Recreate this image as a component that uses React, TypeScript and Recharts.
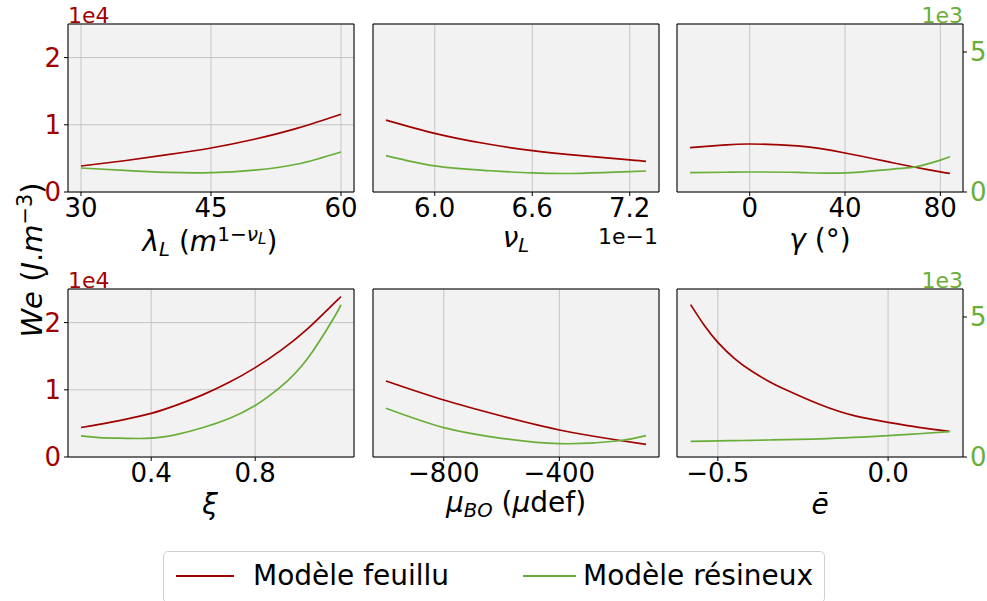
import React from "react";
import { LineChart, Line, XAxis, YAxis, CartesianGrid, ReferenceLine } from "recharts";

const FONT = '"DejaVu Sans", sans-serif';
const RED = "#a00000";
const GREEN = "#6aae3a";

// left axis (feuillu) 0..2.5e4, right axis (résineux) 0..6e3
const leftTicks = [0, 10000, 20000];
const rightTicks = [0, 5000];

const lambdaX = [30, 35, 40, 45, 50, 55, 60];
const lambdaFeuillu = [3870, 4650, 5550, 6550, 7850, 9500, 11560];
const lambdaResineux = [857, 770, 700, 690, 780, 1000, 1430];

const nuX = [5.7, 6.0, 6.3, 6.6, 6.9, 7.2, 7.3];
const nuFeuillu = [10700, 8730, 7250, 6150, 5400, 4780, 4560];
const nuResineux = [1300, 930, 775, 680, 668, 725, 750];

const gammaX = [-25, -10, 0, 20, 40, 60, 70, 80, 84];
const gammaFeuillu = [6590, 7000, 7140, 6850, 5800, 4350, 3650, 3000, 2760];
const gammaResineux = [690, 705, 714, 700, 680, 820, 904, 1140, 1260];

const xiX = [0.13, 0.2, 0.3, 0.4, 0.5, 0.6, 0.7, 0.8, 0.9, 1.0, 1.1, 1.13];
const xiFeuillu = [4390, 4850, 5600, 6490, 7760, 9280, 11110, 13300, 15910, 19030, 22760, 23880];
const xiResineux = [755, 694, 668, 672, 810, 1053, 1377, 1840, 2520, 3500, 4930, 5430];

const muX = [-1000, -800, -600, -400, -200, -100];
const muFeuillu = [11310, 8480, 6100, 4020, 2530, 1880];
const muResineux = [1740, 1050, 667, 476, 571, 762];

const eX = [-0.58, -0.54, -0.5, -0.45, -0.4, -0.35, -0.3, -0.2, -0.1, 0.0, 0.09, 0.18];
const eFeuillu = [22670, 19600, 17060, 14600, 12750, 11250, 10000, 7800, 6150, 5160, 4420, 3820];
const eResineux = [560, 565, 575, 585, 595, 608, 620, 650, 700, 762, 830, 905];

const minus = (s: string) => s.replace("-", "\u2212");
const fmtInt = (v: number) => minus(String(v));
const fmt1 = (v: number) => minus(v.toFixed(1));

const PW = 286;
const PH = 168;
const AXW = 40;
const TOPM = 5;
const TICK_FS = 26;

function Panel({ left, top, xs, red, green, domain, ticks, fmt, showLeft, showRight }: any) {
  const data = xs.map((x: number, i: number) => ({ x, feuillu: red[i], resineux: green[i] }));
  return (
    <div style={{ position: "absolute", left: left - AXW, top: top - TOPM }}>
      <LineChart
        width={PW + 2 * AXW}
        height={PH + TOPM + 40}
        data={data}
        margin={{ top: TOPM, right: 0, bottom: 0, left: 0 }}
      >
        <CartesianGrid stroke="#c4c4c4" strokeWidth={1} fill="#f2f2f2" fillOpacity={1} />
        <XAxis
          dataKey="x"
          type="number"
          domain={domain}
          ticks={ticks}
          tickFormatter={fmt}
          allowDataOverflow
          height={40}
          tickSize={4}
          tickMargin={3}
          axisLine={{ stroke: "#000" }}
          tickLine={{ stroke: "#000" }}
          tick={{ fill: "#000", fontSize: TICK_FS, fontFamily: FONT }}
        />
        <YAxis
          domain={[0, 25000]}
          ticks={leftTicks}
          tickFormatter={(v: number) => String(v / 10000)}
          allowDataOverflow
          width={AXW}
          tickSize={4}
          tickMargin={3}
          axisLine={{ stroke: "#000" }}
          tickLine={{ stroke: "#000" }}
          tick={showLeft ? { fill: RED, fontSize: TICK_FS, fontFamily: FONT } : false}
        />
        <YAxis
          yAxisId="r"
          orientation="right"
          domain={[0, 6000]}
          ticks={rightTicks}
          tickFormatter={(v: number) => String(v / 1000)}
          allowDataOverflow
          width={AXW}
          tickSize={4}
          tickMargin={3}
          axisLine={{ stroke: "#000" }}
          tickLine={{ stroke: "#000" }}
          tick={showRight ? { fill: GREEN, fontSize: TICK_FS, fontFamily: FONT } : false}
        />
        <ReferenceLine y={25000} stroke="#000" strokeWidth={1} />
        <Line
          type="natural"
          dataKey="feuillu"
          stroke={RED}
          strokeWidth={1.7}
          dot={false}
          isAnimationActive={false}
        />
        <Line
          type="natural"
          dataKey="resineux"
          yAxisId="r"
          stroke={GREEN}
          strokeWidth={1.7}
          dot={false}
          isAnimationActive={false}
        />
      </LineChart>
    </div>
  );
}

const sub = { fontSize: "0.7em", verticalAlign: "-0.25em" };
const sup = { fontSize: "0.72em", verticalAlign: "0.5em" };

function XLabel({ cx, cy, children }: any) {
  return (
    <div
      style={{
        position: "absolute",
        left: cx,
        top: cy,
        transform: "translate(-50%, -50%)",
        fontSize: 28,
        lineHeight: 0.9,
        whiteSpace: "nowrap",
      }}
    >
      {children}
    </div>
  );
}

function Offset({ x, y, color, align, children }: any) {
  return (
    <div
      style={{
        position: "absolute",
        left: align === "right" ? undefined : x,
        right: align === "right" ? 987 - x : undefined,
        top: y,
        fontSize: 22,
        lineHeight: 1,
        color,
        whiteSpace: "nowrap",
      }}
    >
      {children}
    </div>
  );
}

export default function App() {
  const cols = [68, 373, 677];
  const rows = [24, 289];
  return (
    <div
      style={{
        position: "absolute",
        left: 0,
        top: 0,
        width: 987,
        height: 601,
        background: "#fff",
        fontFamily: FONT,
        color: "#000",
        overflow: "hidden",
      }}
    >
      <Panel left={cols[0]} top={rows[0]} xs={lambdaX} red={lambdaFeuillu} green={lambdaResineux}
        domain={[28.5, 61.5]} ticks={[30, 45, 60]} fmt={fmtInt} showLeft />
      <Panel left={cols[1]} top={rows[0]} xs={nuX} red={nuFeuillu} green={nuResineux}
        domain={[5.62, 7.38]} ticks={[6.0, 6.6, 7.2]} fmt={fmt1} />
      <Panel left={cols[2]} top={rows[0]} xs={gammaX} red={gammaFeuillu} green={gammaResineux}
        domain={[-30.5, 89.5]} ticks={[0, 40, 80]} fmt={fmtInt} showRight />
      <Panel left={cols[0]} top={rows[1]} xs={xiX} red={xiFeuillu} green={xiResineux}
        domain={[0.08, 1.18]} ticks={[0.4, 0.8]} fmt={fmt1} showLeft />
      <Panel left={cols[1]} top={rows[1]} xs={muX} red={muFeuillu} green={muResineux}
        domain={[-1045, -55]} ticks={[-800, -400]} fmt={fmtInt} />
      <Panel left={cols[2]} top={rows[1]} xs={eX} red={eFeuillu} green={eResineux}
        domain={[-0.62, 0.22]} ticks={[-0.5, 0.0]} fmt={fmt1} showRight />

      <Offset x={68} y={5} color={RED}>1e4</Offset>
      <Offset x={68} y={270} color={RED}>1e4</Offset>
      <Offset x={963} y={5} color={GREEN} align="right">1e3</Offset>
      <Offset x={963} y={270} color={GREEN} align="right">1e3</Offset>
      <Offset x={658} y={226} color="#000" align="right">1e{"\u2212"}1</Offset>

      <XLabel cx={210} cy={242}>
        <i>λ</i><span style={sub}><i>L</i></span> (<i>m</i>
        <span style={sup}>1{"\u2212"}<i>ν</i><span style={{ fontSize: "0.75em", verticalAlign: "-0.2em" }}><i>L</i></span></span>)
      </XLabel>
      <XLabel cx={516} cy={240}>
        <i>ν</i><span style={sub}><i>L</i></span>
      </XLabel>
      <XLabel cx={820} cy={240}>
        <i>γ</i> (°)
      </XLabel>
      <XLabel cx={210} cy={505}>
        <i>ξ</i>
      </XLabel>
      <XLabel cx={516} cy={505}>
        <i>μ</i><span style={sub}><i>BO</i></span> (<i>μ</i>def)
      </XLabel>
      <XLabel cx={820} cy={505}>
        <i>ē</i>
      </XLabel>

      <div
        style={{
          position: "absolute",
          left: 31,
          top: 260,
          transform: "translate(-50%, -50%) rotate(-90deg)",
          fontSize: 29,
          lineHeight: 1,
          whiteSpace: "nowrap",
        }}
      >
        <i>We</i> (<i>J</i>.<i>m</i><span style={sup}>{"\u2212"}3</span>)
      </div>

      <div
        style={{
          position: "absolute",
          left: 163,
          top: 551,
          width: 662,
          height: 52,
          border: "1px solid #d0d0d0",
          borderRadius: 5,
          boxSizing: "border-box",
          fontSize: 28,
        }}
      >
        <div style={{ position: "absolute", left: 12, top: 23, width: 58, borderTop: `2px solid ${RED}` }} />
        <div style={{ position: "absolute", left: 89, top: 7, lineHeight: 1.2 }}>Modèle feuillu</div>
        <div style={{ position: "absolute", left: 359, top: 23, width: 53, borderTop: `2px solid ${GREEN}` }} />
        <div style={{ position: "absolute", left: 419, top: 7, lineHeight: 1.2 }}>Modèle résineux</div>
      </div>
    </div>
  );
}
